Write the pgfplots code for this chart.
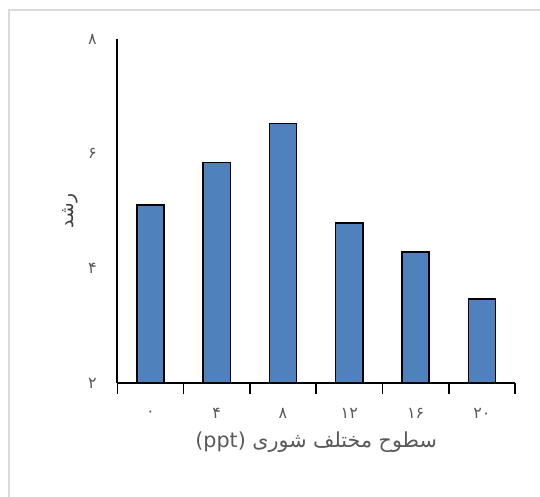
\documentclass[border=0pt]{standalone}
\usepackage{fontspec}
\usepackage{pgfplots}
\pgfplotsset{compat=1.18}
\TeXXeTstate=1
\setmainfont{DejaVu Sans}
\newfontfamily\arabicfont[Script=Arabic]{DejaVu Sans}
\definecolor{barblue}{HTML}{4F81BD}
\definecolor{txtgray}{HTML}{595959}
\definecolor{labgray}{HTML}{404040}
\definecolor{framegray}{HTML}{D9D9D9}

\begin{document}
\begin{tikzpicture}
% page size = reference size (1px = 0.75pt)
\useasboundingbox (0,0) rectangle (405pt,372.75pt);
\draw[framegray, line width=1.2pt] (6.75pt,0) -- (6.75pt,365.25pt) -- (405pt,365.25pt);
\begin{axis}[
    at={(87.98pt,85.28pt)}, anchor=south west,
    scale only axis, width=298.3pt, height=258.2pt,
    ybar, bar width=0.41,
    xmin=-0.5, xmax=5.5, ymin=2, ymax=8,
    axis x line*=bottom, axis y line*=left,
    axis on top,
    axis line style={line width=1.5pt, black},
    xtick={0,...,5},
    xticklabels={۰,۴,۸,۱۲,۱۶,۲۰},
    minor xtick={-0.5,0.5,...,5.5},
    ytick={2,4,6,8},
    yticklabels={۲,۴,۶,۸},
    major tick length=0pt, minor tick length=8pt,
    tick align=outside,
    tick style={black, line width=1.2pt},
    ticklabel style={font=\arabicfont\fontsize{12}{14}\selectfont, text=txtgray},
    xticklabel style={anchor=center, yshift=-22.5pt},
    yticklabel style={anchor=east, xshift=-12pt},
    xlabel={\beginR سطوح مختلف شوری \beginL(ppt)\endL\endR},
    xlabel style={font=\arabicfont\fontsize{15.5}{18}\selectfont, text=txtgray,
        at={(axis description cs:0.5,0)}, anchor=center, yshift=-44pt},
    ylabel={\beginR رشد\endR},
    ylabel style={font=\arabicfont\fontsize{14}{16}\selectfont, text=labgray,
        at={(axis description cs:-0.118,0.5)}, anchor=center},
]
\addplot[fill=barblue, draw=black, line width=1.1pt]
    coordinates {(0,5.11) (1,5.85) (2,6.53) (3,4.79) (4,4.29) (5,3.47)};
\end{axis}
\end{tikzpicture}
\end{document}
